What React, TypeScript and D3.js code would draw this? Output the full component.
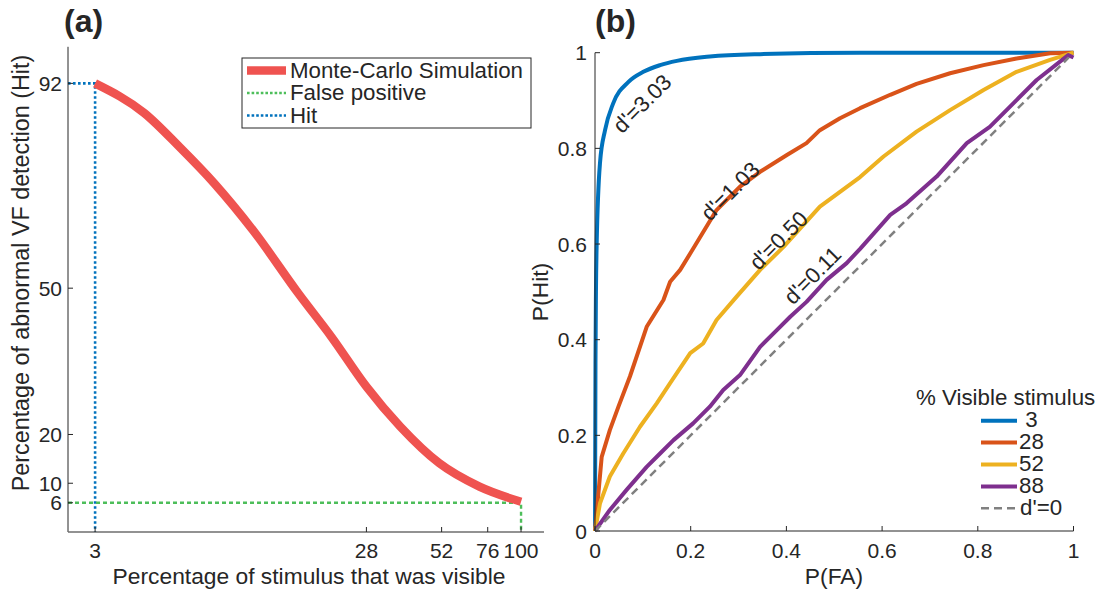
import * as d3 from "d3";

// panel (a): detection rate vs visible stimulus
const visiblePct = [3, 4.5, 6, 8, 11, 16, 21, 28, 37, 51, 71, 100];
const hitPct = [92, 85.9, 79, 71.5, 61.9, 48.9, 40, 29.8, 21.6, 14.1, 9.3, 6.2];
const xTicksA = [3, 28, 52, 76, 100];
const yTicksA = [6, 10, 20, 50, 92];
const hitMark = [3, 92];
const fpMark = [100, 6];
const legendA = ["Monte-Carlo Simulation", "False positive", "Hit"];

// panel (b): ROC curves, [P(FA), P(Hit)]
const roc3 = [
  [0, 0], [0.001, 0.35], [0.002, 0.5], [0.0035, 0.6], [0.0105, 0.77], [0.021, 0.838],
  [0.038, 0.894], [0.07, 0.939], [0.101, 0.96], [0.136, 0.974], [0.171, 0.983],
  [0.24, 0.992], [0.345, 0.997], [0.554, 1], [1, 1],
];
const roc28 = [
  [0, 0], [0.014, 0.155], [0.031, 0.211], [0.049, 0.26], [0.073, 0.323], [0.108, 0.427],
  [0.143, 0.483], [0.157, 0.521], [0.178, 0.546], [0.205, 0.59], [0.254, 0.671],
  [0.303, 0.72], [0.345, 0.751], [0.401, 0.786], [0.442, 0.811], [0.47, 0.838],
  [0.512, 0.863], [0.554, 0.884], [0.617, 0.912], [0.672, 0.935], [0.742, 0.957],
  [0.812, 0.974], [0.881, 0.988], [0.951, 0.999], [1, 1],
];
const roc52 = [
  [0, 0], [0.0105, 0.058], [0.031, 0.114], [0.059, 0.162], [0.094, 0.218], [0.129, 0.267],
  [0.157, 0.309], [0.199, 0.372], [0.226, 0.392], [0.254, 0.441], [0.296, 0.49],
  [0.345, 0.546], [0.394, 0.594], [0.47, 0.678], [0.554, 0.74], [0.603, 0.783],
  [0.672, 0.835], [0.742, 0.88], [0.812, 0.922], [0.881, 0.96], [0.951, 0.985], [1, 1],
];
const roc88 = [
  [0, 0], [0.031, 0.044], [0.066, 0.086], [0.108, 0.134], [0.136, 0.162], [0.164, 0.19],
  [0.205, 0.225], [0.24, 0.26], [0.268, 0.295], [0.303, 0.326], [0.345, 0.385],
  [0.38, 0.42], [0.408, 0.448], [0.442, 0.479], [0.484, 0.525], [0.526, 0.56],
  [0.554, 0.59], [0.617, 0.661], [0.651, 0.685], [0.714, 0.741], [0.777, 0.811],
  [0.825, 0.845], [0.881, 0.901], [0.923, 0.943], [0.989, 0.995], [1, 0.99],
];
const chance = [[0, 0], [0.99, 0.99]];
const rocSeries = [roc3, roc28, roc52, roc88];
const rocLevels = [" 3", "28", "52", "88"];
const rocColors = ["#0072BD", "#D95319", "#EDB120", "#7E2F8E"];
const dLabels = ["d'=3.03", "d'=1.03", "d'=0.50", "d'=0.11"];
const dLabelFa = [0.098, 0.282, 0.383, 0.454];
const dLabelHit = [0.894, 0.711, 0.608, 0.535];
const pTicks = [0, 0.2, 0.4, 0.6, 0.8, 1];

const font = "Liberation Sans, Arial, Helvetica, sans-serif";
const ink = "#262626";
const tickSize = 21;

export default function App() {
  const xa = d3.scaleLog().domain([2.4, 120.8]).range([68, 544]);
  const ya = d3.scaleLinear().domain([0, 99.5]).range([532, 46.8]);
  const xb = d3.scaleLinear().domain([0, 1]).range([595, 1073.5]);
  const yb = d3.scaleLinear().domain([0, 1]).range([531, 52.7]);

  const lineA = d3
    .line<number>()
    .x((_, i) => xa(visiblePct[i]))
    .y((d) => ya(d))
    .curve(d3.curveMonotoneX);

  // the 3% curve is smooth, the others keep their simulation jitter
  const smoothB = d3
    .line<number[]>()
    .x((d) => xb(d[0]))
    .y((d) => yb(d[1]))
    .curve(d3.curveMonotoneX);
  const lineB = d3
    .line<number[]>()
    .x((d) => xb(d[0]))
    .y((d) => yb(d[1]));

  const legA = { x: 242, y: 58, w: 289, h: 70 };
  const legARow = (i: number) => 70.5 + i * 22.5;
  const legBRow = (i: number) => 420.7 + i * 21.9;

  return (
    <svg
      width={1103}
      height={592}
      style={{ position: "absolute", left: 0, top: 0, background: "#fff" }}
      fontFamily={font}
      fill={ink}
    >
      {/* ---------- panel (a) ---------- */}
      <text x={64} y={32} fontSize={32} fontWeight="bold">(a)</text>

      <path
        d={`M${xa.range()[0]},${ya(hitMark[1])}H${xa(hitMark[0])}V${ya(0)}`}
        fill="none" stroke="#0072BD" strokeWidth={2.6} strokeDasharray="2.6 2.4"
      />
      <path
        d={`M${xa.range()[0]},${ya(fpMark[1])}H${xa(fpMark[0])}V${ya(0)}`}
        fill="none" stroke="#4DBE5A" strokeWidth={2.4} strokeDasharray="4 3"
      />
      <path d={lineA(hitPct) || ""} fill="none" stroke="#EF5350" strokeWidth={8.5} />

      {/* axes a */}
      <line x1={68} x2={68} y1={46.8} y2={532} stroke={ink} strokeWidth={1} />
      <line x1={68} x2={544} y1={532} y2={532} stroke="#6e6e6e" strokeWidth={1.4} />
      {yTicksA.map((t) => (
        <g key={t}>
          <line x1={68} x2={73} y1={ya(t)} y2={ya(t)} stroke={ink} />
          <text x={62} y={ya(t)} dy="0.36em" textAnchor="end" fontSize={tickSize}>{t}</text>
        </g>
      ))}
      {xTicksA.map((t) => (
        <g key={t}>
          <line x1={xa(t)} x2={xa(t)} y1={532} y2={527} stroke={ink} />
          <text x={xa(t)} y={558} textAnchor="middle" fontSize={tickSize}>{t}</text>
        </g>
      ))}
      <text x={309} y={584} textAnchor="middle" fontSize={22.8}>
        Percentage of stimulus that was visible
      </text>
      <text
        transform={`translate(29,273) rotate(-90)`}
        textAnchor="middle" fontSize={23.3}
      >
        Percentage of abnormal VF detection (Hit)
      </text>

      {/* legend a */}
      <rect x={legA.x} y={legA.y} width={legA.w} height={legA.h} fill="#fff" stroke={ink} strokeWidth={1} />
      <line x1={247} x2={286} y1={legARow(0)} y2={legARow(0)} stroke="#EF5350" strokeWidth={8.5} />
      <line x1={247} x2={286} y1={legARow(1)} y2={legARow(1)} stroke="#4DBE5A" strokeWidth={2.4} strokeDasharray="2.6 2" />
      <line x1={247} x2={286} y1={legARow(2)} y2={legARow(2)} stroke="#0072BD" strokeWidth={2.4} strokeDasharray="2.6 2" />
      {legendA.map((s, i) => (
        <text key={s} x={290} y={legARow(i) + 7} fontSize={22.3}>{s}</text>
      ))}

      {/* ---------- panel (b) ---------- */}
      <text x={595} y={32} fontSize={32} fontWeight="bold">(b)</text>

      {rocSeries.map((s, i) => (
        <path
          key={i}
          d={(i === 0 ? smoothB(s) : lineB(s)) || ""}
          fill="none" stroke={rocColors[i]} strokeWidth={4} strokeLinejoin="round"
        />
      ))}
      <path d={lineB(chance) || ""} fill="none" stroke="#808080" strokeWidth={2.5} strokeDasharray="8 5" />

      {dLabels.map((s, i) => (
        <text
          key={s}
          transform={`translate(${xb(dLabelFa[i])},${yb(dLabelHit[i])}) rotate(-45)`}
          textAnchor="middle" dy="0.36em" fontSize={22}
        >
          {s}
        </text>
      ))}

      {/* axes b */}
      <line x1={595} x2={595} y1={52.7} y2={531} stroke={ink} strokeWidth={1} />
      <line x1={595} x2={1073.5} y1={531} y2={531} stroke="#6e6e6e" strokeWidth={1.4} />
      {pTicks.map((t) => (
        <g key={"y" + t}>
          <line x1={595} x2={600} y1={yb(t)} y2={yb(t)} stroke={ink} />
          <text x={587} y={yb(t)} dy="0.36em" textAnchor="end" fontSize={tickSize}>{t}</text>
        </g>
      ))}
      {pTicks.map((t) => (
        <g key={"x" + t}>
          <line x1={xb(t)} x2={xb(t)} y1={531} y2={526} stroke={ink} />
          <text x={xb(t)} y={558} textAnchor="middle" fontSize={tickSize}>{t}</text>
        </g>
      ))}
      <text x={834} y={584} textAnchor="middle" fontSize={22.8}>P(FA)</text>
      <text transform={`translate(548,292) rotate(-90)`} textAnchor="middle" fontSize={22.8}>P(Hit)</text>

      {/* legend b */}
      <text x={916} y={405} fontSize={22.3}>% Visible stimulus</text>
      {rocLevels.map((s, i) => (
        <g key={s}>
          <line x1={981} x2={1017} y1={legBRow(i)} y2={legBRow(i)} stroke={rocColors[i]} strokeWidth={4} />
          <text x={1019} y={legBRow(i) + 6.5} fontSize={22.3} style={{ whiteSpace: "pre" }}>{s}</text>
        </g>
      ))}
      <line x1={981} x2={1017} y1={legBRow(4)} y2={legBRow(4)} stroke="#808080" strokeWidth={2.5} strokeDasharray="8 5" />
      <text x={1020} y={legBRow(4) + 6.5} fontSize={22.3}>d'=0</text>
    </svg>
  );
}
